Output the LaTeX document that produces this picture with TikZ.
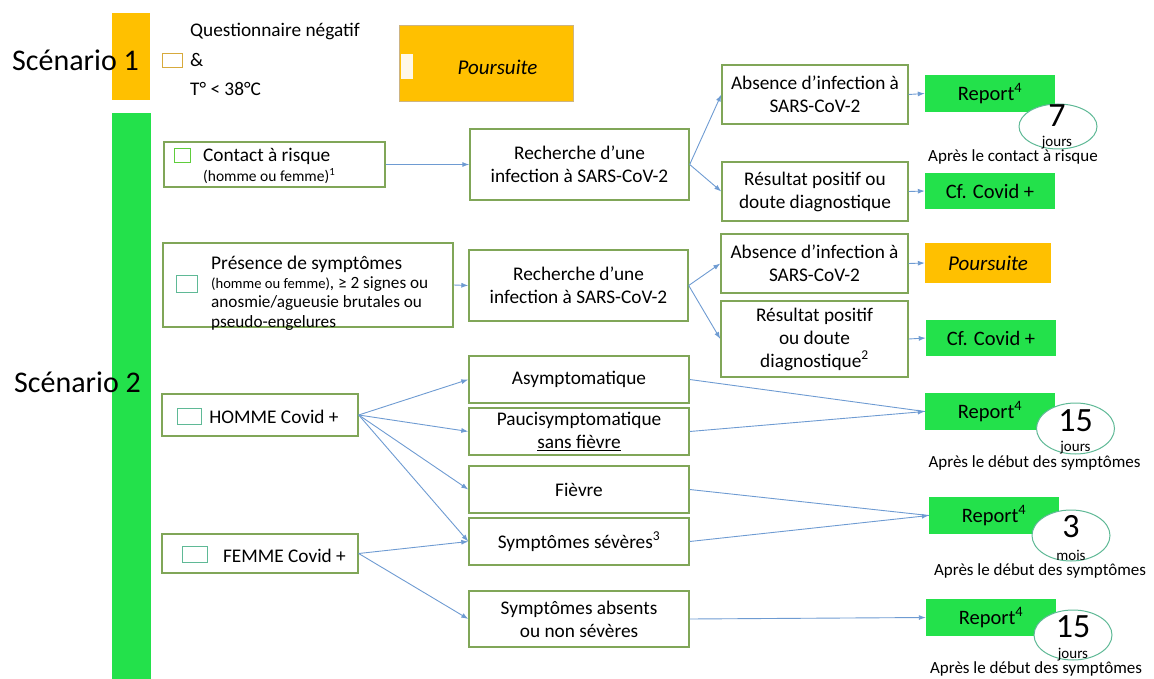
\documentclass[tikz,border=0pt]{standalone}
\usepackage{fontspec}
\setmainfont{Carlito}
\usetikzlibrary{arrows.meta,shapes.geometric}

\definecolor{ambre}{RGB}{255,192,0}
\definecolor{vert}{RGB}{35,225,75}
\definecolor{bordvert}{RGB}{128,166,88}
\definecolor{bleufl}{RGB}{110,155,210}
\definecolor{sarcelle}{RGB}{95,185,150}
\definecolor{bordbeige}{RGB}{205,180,130}
\definecolor{creme}{RGB}{255,248,232}
\definecolor{orfonce}{RGB}{215,170,60}
\definecolor{vertclair}{RGB}{95,205,60}

\begin{document}
\begin{tikzpicture}[x=1pt,y=-1pt,
    boite/.style={draw=bordvert, line width=1.4pt, fill=white, inner sep=0pt, align=center,
        font=\fontsize{19.3}{23}\selectfont},
    report/.style={fill=vert, inner sep=0pt, minimum width=130, minimum height=37,
        font=\fontsize{20.5}{24}\selectfont},
    duree/.style={ellipse, draw=sarcelle, line width=1pt, fill=white, inner sep=0pt,
        minimum width=78, minimum height=50},
    chiffre/.style={inner sep=0pt, font=\fontsize{34}{36}\selectfont},
    unite/.style={inner sep=0pt, font=\fontsize{15}{18}\selectfont},
    apres/.style={inner sep=0pt, font=\fontsize{17}{20}\selectfont},
    fleche/.style={draw=bleufl, line width=0.9pt, -{Latex[length=7pt,width=5pt]}},
    trait/.style={draw=bleufl, line width=0.9pt},
    carre/.style={draw=#1, line width=1pt, fill=white, inner sep=0pt},
    texte/.style={inner sep=0pt, anchor=west, font=\fontsize{19.3}{23}\selectfont}]
    \useasboundingbox (0,0) rectangle (1154,679);

    % bandes des scenarios
    \fill[ambre] (112,13) rectangle (150,100);
    \fill[vert] (112,113) rectangle (151,679);
    \node[inner sep=0pt, anchor=west, font=\fontsize{30}{34}\selectfont] (sc1) at (12,60) {Scénario 1};
    \node[inner sep=0pt, anchor=west, font=\fontsize{30}{34}\selectfont] (sc2) at (14,382) {Scénario 2};

    % scenario 1
    \node[carre=orfonce, minimum width=20, minimum height=14] (q1) at (172,61) {};
    \node[texte] (quest) at (190,31) {Questionnaire négatif};
    \node[texte] (et) at (190,60) {\&};
    \node[texte] (temp) at (190,89) {T° < 38°C};
    \node[draw=bordbeige, fill=ambre, line width=1pt, minimum width=174, minimum height=76] (pours1) at (486,64) {};
    \node[fill=creme, inner sep=0pt, minimum width=12, minimum height=25] (blanc) at (407,66.5) {};
    \node[inner sep=0pt, font=\fontsize{21}{24}\selectfont\itshape] (poursuite) at (497.5,67) {Poursuite};

    % contact a risque
    \node[boite, minimum width=221, minimum height=45] (contact) at (274.5,164.5) {};
    \node[carre=vertclair, minimum width=16, minimum height=14] (c1) at (182,156) {};
    \node[texte] (contact1) at (203,156) {Contact à risque};
    \node[texte, font=\fontsize{15.5}{18}\selectfont] (contact2) at (203,176) {(homme ou femme)\textsuperscript{1}};
    \node[boite, minimum width=219, minimum height=71] (rech1) at (579.5,164.5) {Recherche d’une\\infection à SARS-CoV-2};
    \node[boite, minimum width=186, minimum height=59] (abs1) at (815,94.5) {Absence d’infection à\\SARS-CoV-2};
    \node[boite, minimum width=186, minimum height=59] (res1) at (815,191.5) {Résultat positif ou\\doute diagnostique};
    \node[report] (rep1) at (990,93.5) {Report\textsuperscript{4}};
    \node[report, minimum height=36] (cf1) at (990,191) {Cf. Covid +};
    \node[duree, minimum height=45] (e1) at (1058,126.5) {};
    \node[chiffre] (n1) at (1057,116) {7};
    \node[unite] (u1) at (1057,143) {jours};
    \node[apres] (ap1) at (1013,157) {Après le contact à risque};
    \draw[fleche] (contact.east) -- (rech1.west);
    \draw[fleche] (rech1.east) -- (abs1.west);
    \draw[fleche] (rech1.east) -- (res1.west);
    \draw[fleche] (abs1.east) -- (rep1.west);
    \draw[fleche] (res1.east) -- (cf1.west);

    % presence de symptomes
    \node[boite, minimum width=290, minimum height=84] (pres) at (308,285) {};
    \node[carre=sarcelle, minimum width=21, minimum height=17] (c2) at (186.5,283.5) {};
    \node[texte, align=left, font=\fontsize{17.2}{19.3}\selectfont] (pres1) at (211,293)
        {{\fontsize{19.4}{19.3}\selectfont Présence de symptômes}\\{\fontsize{14.6}{19.3}\selectfont (homme ou femme)}, ≥ 2 signes ou\\anosmie/agueusie brutales ou\\pseudo-engelures};
    \node[boite, minimum width=219, minimum height=71] (rech2) at (578.5,285.5) {Recherche d’une\\infection à SARS-CoV-2};
    \node[boite, minimum width=187, minimum height=59] (abs2) at (814.5,263.5) {Absence d’infection à\\SARS-CoV-2};
    \node[boite, minimum width=187, minimum height=76] (res2) at (814.5,339) {Résultat positif\\ou doute\\diagnostique\textsuperscript{2}};
    \node[fill=ambre, inner sep=0pt, minimum width=126, minimum height=40, font=\fontsize{21}{24}\selectfont\itshape] (pours2) at (988,263) {Poursuite};
    \node[report, minimum height=36] (cf2) at (991,338) {Cf. Covid +};
    \draw[fleche] (pres.east) -- (rech2.west);
    \draw[fleche] (rech2.east) -- (abs2.west);
    \draw[fleche] (rech2.east) -- (res2.west);
    \draw[fleche] (abs2.east) -- (pours2.west);
    \draw[fleche] (res2.east) -- (cf2.west);

    % homme et femme covid +
    \node[boite, minimum width=196, minimum height=42] (homme) at (260,415) {};
    \node[carre=sarcelle, minimum width=24, minimum height=16] (c3) at (189,416) {};
    \node[inner sep=0pt, font=\fontsize{19.3}{23}\selectfont] (homme1) at (274,417) {HOMME Covid +};
    \node[boite, minimum width=196, minimum height=39] (femme) at (260,553.5) {};
    \node[carre=sarcelle, minimum width=25, minimum height=16] (c4) at (194.5,554) {};
    \node[inner sep=0pt, font=\fontsize{19.3}{23}\selectfont] (femme1) at (284.5,556) {FEMME Covid +};

    \node[boite, minimum width=220, minimum height=47] (asym) at (579,379.5) {Asymptomatique};
    \node[boite, minimum width=220, minimum height=47] (pauci) at (579,431.5) {Paucisymptomatique\\\underline{sans fièvre}};
    \node[boite, minimum width=220, minimum height=47] (fievre) at (579,489.5) {Fièvre};
    \node[boite, minimum width=220, minimum height=47] (sev) at (579,541.5) {Symptômes sévères\textsuperscript{3}};
    \node[boite, minimum width=220, minimum height=56] (absents) at (579,619) {Symptômes absents\\ou non sévères};

    \draw[fleche] (homme.east) -- (asym.west);
    \draw[fleche] (homme.east) -- (pauci.west);
    \draw[fleche] (homme.east) -- (fievre.west);
    \draw[fleche] (homme.east) -- (sev.west);
    \draw[fleche] (femme.east) -- (sev.west);
    \draw[fleche] (femme.east) -- (absents.west);

    % reports
    \node[report] (rep2) at (990,411.5) {Report\textsuperscript{4}};
    \node[duree, minimum height=51] (e2) at (1075.5,428.5) {};
    \node[chiffre] (n2) at (1075.5,420.5) {15};
    \node[unite] (u2) at (1075.5,448) {jours};
    \node[apres] (ap2) at (1034.5,463) {Après le début des symptômes};

    \node[report] (rep3) at (994,515.5) {Report\textsuperscript{4}};
    \node[duree, minimum height=51] (e3) at (1071,535.5) {};
    \node[chiffre] (n3) at (1071,527) {3};
    \node[unite] (u3) at (1071,555) {mois};
    \node[apres] (ap3) at (1040,571) {Après le début des symptômes};

    \node[report] (rep4) at (991,617.5) {Report\textsuperscript{4}};
    \node[duree, minimum height=50] (e4) at (1073,635) {};
    \node[chiffre] (n4) at (1073,627) {15};
    \node[unite] (u4) at (1073,655) {jours};
    \node[apres] (ap4) at (1036,669) {Après le début des symptômes};

    \draw[trait] (asym.east) -- (rep2.west);
    \draw[fleche] (pauci.east) -- (rep2.west);
    \draw[trait] (fievre.east) -- (rep3.west);
    \draw[fleche] (sev.east) -- (rep3.west);
    \draw[fleche] (absents.east) -- (rep4.west);
\end{tikzpicture}
\end{document}
